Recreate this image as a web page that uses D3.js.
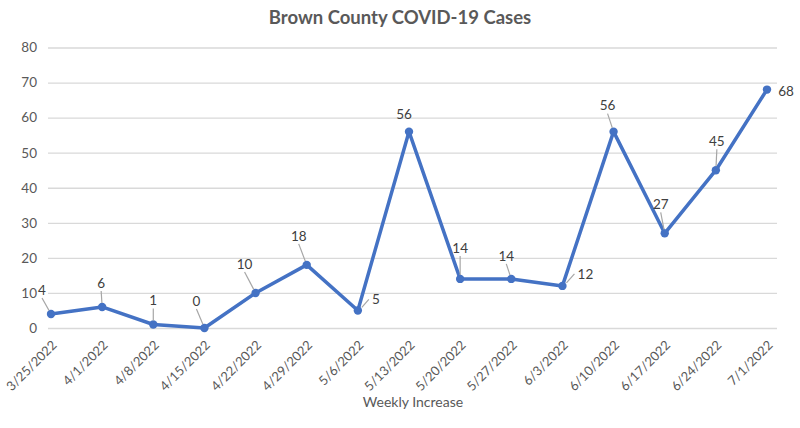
<!DOCTYPE html>
<html><head><meta charset="utf-8">
<script src="https://cdn.jsdelivr.net/npm/d3@7"></script>
<style>body{margin:0;background:#fff;}text{font-family:Lato,"Open Sans",sans-serif;}</style>
</head><body>
<svg id="c" width="800" height="428"></svg>
<script>
const categories = ["3/25/2022","4/1/2022","4/8/2022","4/15/2022","4/22/2022","4/29/2022","5/6/2022","5/13/2022","5/20/2022","5/27/2022","6/3/2022","6/10/2022","6/17/2022","6/24/2022","7/1/2022"];
const cases = [4,6,1,0,10,18,5,56,14,14,12,56,27,45,68];
const yTicks = [0,10,20,30,40,50,60,70,80];
// label placement offsets (dx, dy) from each point, in px
const labelOffsets = [[-9,-24],[-1,-24],[0,-24],[-8,-27],[-11,-29],[-8,-29],[18,-11],[-5,-17],[0,-31],[-5,-23],[23,-12],[-6,-26],[-4,-29],[1,-29],[19,2]];

const svg = d3.select("#c");
const grey = "#595959";
const x = d3.scalePoint().domain(categories).range([51,767]);
const y = d3.scaleLinear().domain([0,80]).range([328,47.5]);

svg.append("text").attr("x",400).attr("y",24).attr("text-anchor","middle")
  .attr("font-size",18.5).attr("font-weight","bold").attr("fill",grey).text("Brown County COVID-19 Cases");

const yAxis = svg.append("g").attr("transform","translate(48,0)")
  .call(d3.axisLeft(y).tickValues(yTicks).tickSize(-729).tickPadding(11));
yAxis.select(".domain").remove();
yAxis.selectAll(".tick line").attr("stroke","#d9d9d9").attr("stroke-width",1.3);
yAxis.selectAll(".tick text").attr("fill",grey).attr("font-size",13.5).attr("font-family","Lato,'Open Sans',sans-serif");

const xAxis = svg.append("g").attr("transform","translate(0,328)")
  .call(d3.axisBottom(x).tickSize(0).tickPadding(0));
xAxis.select(".domain").remove();
xAxis.selectAll(".tick text")
  .attr("fill",grey).attr("font-size",13).attr("font-family","Lato,'Open Sans',sans-serif")
  .attr("text-anchor","end").attr("dy",0)
  .attr("transform","translate(6,18) rotate(-45)");

svg.append("text").attr("x",413).attr("y",407).attr("text-anchor","middle")
  .attr("font-size",14).attr("fill",grey).text("Weekly Increase");

const line = d3.line().x((d,i)=>x(categories[i])).y(d=>y(d));
svg.append("path").datum(cases).attr("d",line).attr("fill","none")
  .attr("stroke","#4472C4").attr("stroke-width",3.5).attr("stroke-linejoin","round");

svg.selectAll("circle.m").data(cases).enter().append("circle")
  .attr("cx",(d,i)=>x(categories[i])).attr("cy",d=>y(d)).attr("r",4.2).attr("fill","#4472C4");

// leader lines and labels
cases.forEach((v,i)=>{
  const px = x(categories[i]), py = y(v);
  const [dx,dy] = labelOffsets[i];
  const lx = px+dx, ly = py+dy;
  const horiz = Math.abs(dy) < 14;
  if (Math.hypot(dx,dy) > 20 && i !== 14) {
    let x1,y1,x2,y2;
    if (horiz) {
      x1 = px+4; y1 = py+(dy<0?-3:0);
      x2 = lx - (String(v).length*4) - 3; y2 = ly;
    } else {
      const tx = lx, ty = ly + 8;
      const len = Math.hypot(tx-px, ty-py);
      x1 = px + (tx-px)/len*4; y1 = py + (ty-py)/len*4;
      x2 = tx; y2 = ty;
    }
    svg.append("line").attr("x1",x1).attr("y1",y1).attr("x2",x2).attr("y2",y2)
      .attr("stroke","#a6a6a6").attr("stroke-width",1.2);
  }
  svg.append("text").attr("x",lx).attr("y",ly).attr("dy","0.35em").attr("text-anchor","middle")
    .attr("font-size",13.5).attr("fill","#404040").text(v);
});
</script>
</body></html>
